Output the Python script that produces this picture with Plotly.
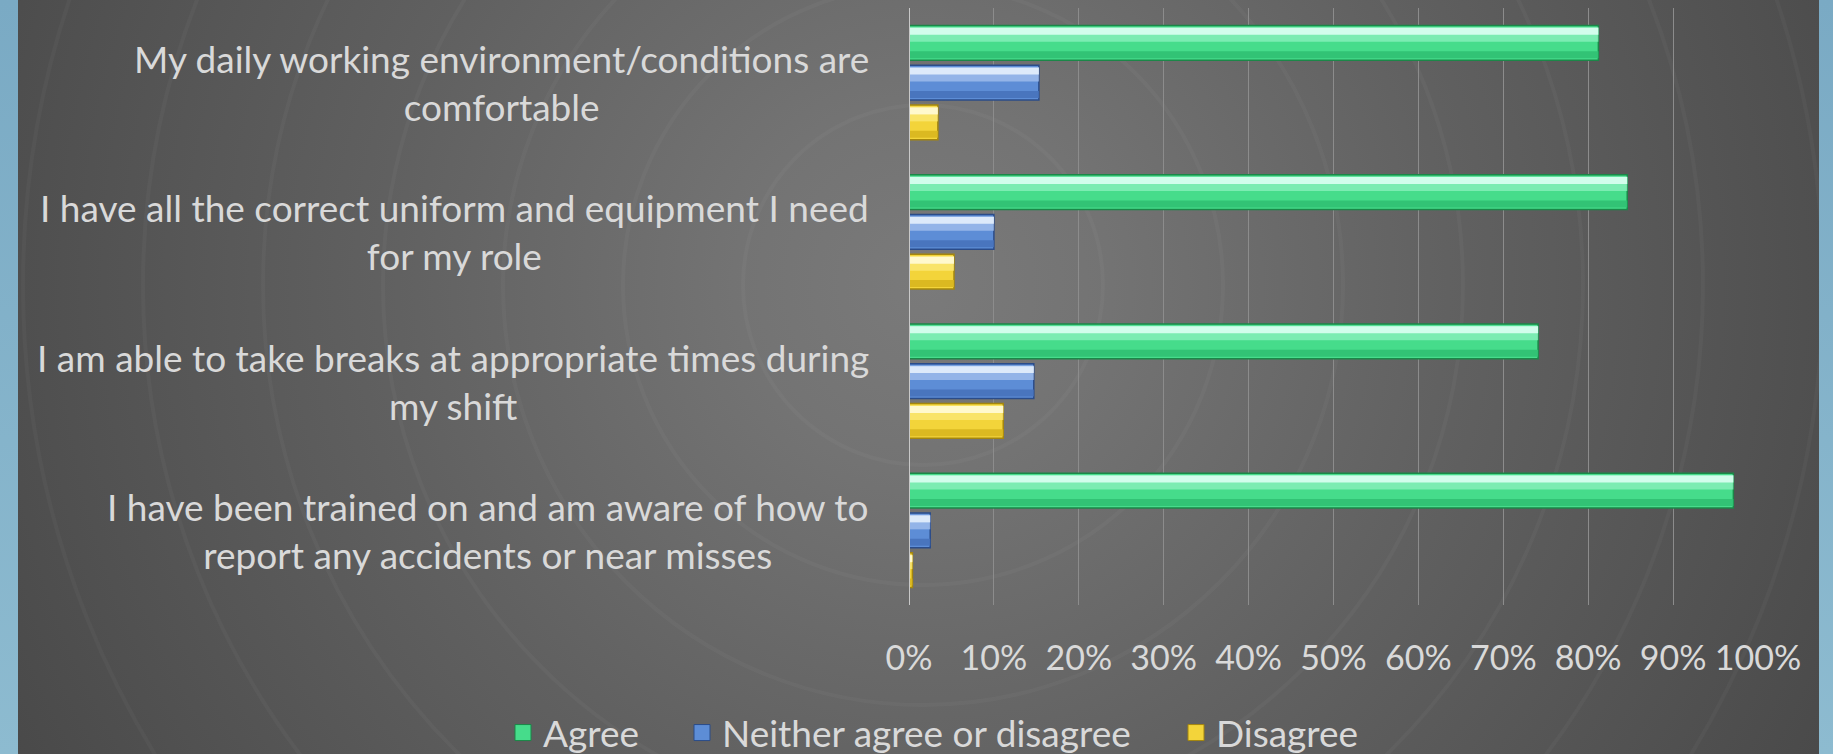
import base64
import plotly.graph_objects as go

# ---------------- data ----------------
categories = [
    "My daily working environment/conditions are<br>comfortable",
    "I have all the correct uniform and equipment I need<br>for my role",
    "I am able to take breaks at appropriate times during<br>my shift",
    "I have been trained on and am aware of how to<br>report any accidents or near misses",
]
series_names = ["Agree", "Neither agree or disagree", "Disagree"]
agree = [81.2, 84.6, 74.1, 97.1]
neither = [15.3, 10.0, 14.7, 2.5]
disagree = [3.4, 5.3, 11.1, 0.4]
x_tick_values = [0, 10, 20, 30, 40, 50, 60, 70, 80, 90, 100]
x_tick_labels = ["0%", "10%", "20%", "30%", "40%", "50%", "60%", "70%", "80%", "90%", "100%"]

# ---------------- style ----------------
W, H = 1833, 754
ML, MR, MT, MB = 909, 75, 8, 149
PW, PH = W - ML - MR, H - MT - MB
FONT = "Lato"
TXT = "#d9d9d9"
FS_LABEL = 37
FS_TICK = 34
FS_LEG = 37
LEGEND_TEXT_X = [543, 722, 1216]   # pixel x where each legend text starts
LEGEND_Y = 733

styles = [
    dict(base="#46dc8b", hi1="#dcfff2", hi2="#8ef2bf", shade="#30c072", line="#1b8748"),
    dict(base="#5d8dd6", hi1="#e6effc", hi2="#a5c2ee", shade="#4772bb", line="#2b4c89"),
    dict(base="#f3d43a", hi1="#fffbd8", hi2="#fbe97a", shade="#d8b61f", line="#a4860e"),
]
values = [agree, neither, disagree]

slot = 40 / 150.0
bw = 35 / 150.0
top = -115 / 150.0 / 2

fig = go.Figure()
legend_ids = ["legend", "legend2", "legend3"]
for i, (name, vals, st) in enumerate(zip(series_names, values, styles)):
    off = top + i * slot
    fig.add_trace(go.Bar(
        y=categories, x=vals, orientation="h", name=name, showlegend=False,
        width=bw, offset=off,
        marker=dict(color=st["base"], line=dict(color=st["line"], width=1.5)),
        hovertemplate="%{x:.1f}%<extra>" + name + "</extra>",
    ))
    # glossy bevel look: light bands near the top, darker band near the bottom
    for c, f0, fw, op in [(st["hi2"], 0.05, 0.42, 0.75), (st["hi1"], 0.07, 0.2, 0.9),
                          (st["shade"], 0.74, 0.2, 0.9)]:
        fig.add_trace(go.Bar(
            y=categories, x=vals, orientation="h", showlegend=False, hoverinfo="skip",
            width=bw * fw, offset=off + bw * f0,
            marker=dict(color=c, opacity=op, line=dict(width=0)),
        ))
    # legend entry (larger square swatch than the default bar icon)
    fig.add_trace(go.Scatter(
        x=[None], y=[None], mode="markers", name=name, legend=legend_ids[i],
        marker=dict(symbol="square", size=20, color=st["base"],
                    line=dict(color=st["line"], width=1)),
    ))

# category labels as centred multi-line annotations
for c in categories:
    fig.add_annotation(
        x=(871 - ML) / PW, xref="paper", y=c, yref="y",
        text=c, showarrow=False, xanchor="right", yanchor="middle", align="center",
        font=dict(family=FONT, size=FS_LABEL, color=TXT),
    )

# background: blue frame + dark radial panel with faint rings
cx, cy = 923, 285
rings = "".join(
    f'<circle cx="{cx}" cy="{cy}" r="{r}" fill="none" stroke="#ffffff" stroke-opacity="0.03" stroke-width="4"/>'
    for r in [180, 300, 420, 540, 660, 780, 900, 1020]
)
svg = (
    f'<svg xmlns="http://www.w3.org/2000/svg" width="{W}" height="{H}" viewBox="0 0 {W} {H}" preserveAspectRatio="none">'
    '<defs>'
    f'<radialGradient id="g" gradientUnits="userSpaceOnUse" cx="{cx}" cy="{cy}" r="1050">'
    '<stop offset="0" stop-color="#7a7a7a"/>'
    '<stop offset="0.18" stop-color="#737373"/>'
    '<stop offset="0.5" stop-color="#616161"/>'
    '<stop offset="0.8" stop-color="#525252"/>'
    '<stop offset="1" stop-color="#484848"/>'
    '</radialGradient>'
    '<linearGradient id="b" x1="0" y1="0" x2="0" y2="1">'
    '<stop offset="0" stop-color="#7aaac4"/><stop offset="1" stop-color="#8dbbd0"/>'
    '</linearGradient>'
    '<clipPath id="c"><rect x="18" y="0" width="1801" height="754"/></clipPath>'
    '</defs>'
    f'<rect width="{W}" height="{H}" fill="url(#b)"/>'
    '<rect x="18" y="0" width="1801" height="754" fill="url(#g)"/>'
    f'<g clip-path="url(#c)">{rings}</g>'
    '</svg>'
)
src = "data:image/svg+xml;base64," + base64.b64encode(svg.encode()).decode()
fig.add_layout_image(
    source=src, xref="paper", yref="paper",
    x=-ML / PW, y=1 + MT / PH, sizex=W / PW, sizey=H / PH,
    xanchor="left", yanchor="top", sizing="stretch", layer="below",
)

leg_common = dict(
    orientation="h", xanchor="left", yanchor="middle",
    y=(MT + PH - LEGEND_Y) / PH,
    font=dict(family=FONT, size=FS_LEG, color=TXT),
    bgcolor="rgba(0,0,0,0)", borderwidth=0, itemwidth=30, itemsizing="trace",
)
legend_layout = {
    lid: dict(leg_common, x=(tx - 40 - ML) / PW)
    for lid, tx in zip(legend_ids, LEGEND_TEXT_X)
}

fig.update_layout(
    width=W, height=H,
    margin=dict(l=ML, r=MR, t=MT, b=MB, pad=0, autoexpand=False),
    paper_bgcolor="#7fb0c8", plot_bgcolor="rgba(0,0,0,0)",
    barmode="overlay",
    font=dict(family=FONT, size=FS_TICK, color=TXT),
    showlegend=True,
    xaxis=dict(
        range=[0, 100], tickvals=x_tick_values, ticktext=x_tick_labels,
        showgrid=True, gridcolor="#8c8c8c", gridwidth=1,
        zeroline=False, showline=False, ticks="",
        ticklabelstandoff=30,
        tickfont=dict(family=FONT, size=FS_TICK, color=TXT),
        fixedrange=True,
    ),
    yaxis=dict(
        autorange="reversed", showticklabels=False, showgrid=False,
        zeroline=False, ticks="", fixedrange=True,
    ),
    **legend_layout,
)
fig.add_shape(type="line", xref="x", yref="paper", x0=0, x1=0, y0=0, y1=1,
              line=dict(color="#c8c8c8", width=2), layer="above")

fig.write_html(
    "out.html",
    config={"displayModeBar": False},
    post_script="document.body.style.margin='0';document.body.style.padding='0';"
                "document.body.style.background='#7fb0c8';document.body.style.overflow='hidden';",
)
